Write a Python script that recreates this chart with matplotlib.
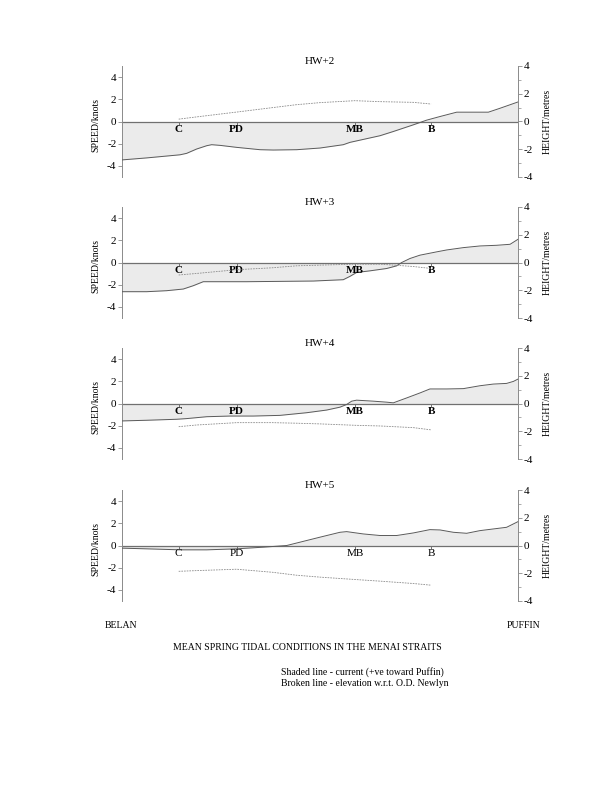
import matplotlib
matplotlib.use("Agg")
import matplotlib.pyplot as plt
from matplotlib.ticker import MultipleLocator, FixedLocator

plt.rcParams['font.family'] = ['Liberation Serif', 'DejaVu Serif']
plt.rcParams['axes.unicode_minus'] = False

# ---------------- data ----------------
panel_titles = ["HW+2", "HW+3", "HW+4", "HW+5"]

loc_names = ["C", "PD", "MB", "B"]
loc_km = [3.58, 7.24, 14.71, 19.51]

# current speed (knots), +ve toward Puffin
cur_km_1 = [0, 1.56, 3.66, 4.08, 4.71, 5.35, 5.66, 6.19, 7.24, 8.71, 9.55, 11.03, 12.5,
            13.97, 14.39, 16.29, 17.13, 18.39, 19.23, 20.08, 21.13, 23.13, 23.86, 25.0]
cur_kn_1 = [-3.46, -3.28, -3.0, -2.87, -2.48, -2.18, -2.09, -2.15, -2.33, -2.54, -2.57, -2.54,
            -2.39, -2.09, -1.88, -1.28, -0.9, -0.3, 0.12, 0.45, 0.84, 0.84, 1.19, 1.76]

cur_km_2 = [0, 1.56, 2.82, 3.87, 4.5, 5.13, 7.87, 12.08, 13.97, 14.39, 14.81, 15.66, 16.71,
            17.34, 17.66, 18.18, 18.81, 19.87, 20.5, 21.55, 22.6, 23.65, 24.5, 25.0]
cur_kn_2 = [-2.63, -2.63, -2.54, -2.39, -2.09, -1.73, -1.73, -1.67, -1.55, -1.25, -0.9, -0.75,
            -0.54, -0.3, 0.0, 0.36, 0.66, 0.96, 1.13, 1.34, 1.49, 1.55, 1.64, 2.09]

cur_km_3 = [0, 1.56, 3.45, 4.08, 5.35, 6.82, 8.29, 9.97, 11.66, 12.92, 13.76, 14.18, 14.5,
            14.81, 15.87, 16.71, 17.13, 17.97, 18.81, 19.44, 20.5, 21.55, 22.6, 23.44, 24.28,
            24.71, 25.0]
cur_kn_3 = [-1.57, -1.51, -1.42, -1.36, -1.19, -1.13, -1.13, -1.07, -0.83, -0.59, -0.33, -0.09,
            0.21, 0.3, 0.21, 0.12, 0.06, 0.5, 0.95, 1.31, 1.31, 1.34, 1.6, 1.75, 1.81, 1.99, 2.2]

cur_km_4 = [0, 1.56, 3.66, 5.35, 7.24, 8.92, 10.4, 11.24, 12.5, 13.76, 14.18, 15.24, 16.29,
            17.34, 18.39, 19.44, 20.08, 20.92, 21.76, 22.6, 23.44, 24.28, 25.0]
cur_kn_4 = [-0.24, -0.3, -0.39, -0.39, -0.3, -0.15, 0.0, 0.3, 0.75, 1.19, 1.25, 1.04, 0.9,
            0.9, 1.13, 1.43, 1.4, 1.19, 1.1, 1.34, 1.49, 1.64, 2.15]

# elevation (metres) w.r.t. O.D. Newlyn
elev_km = [3.58, 4.7, 7.24, 9.5, 11.0, 12.5, 14.7, 16.3, 18.4, 19.51]
elev_m_1 = [0.17, 0.33, 0.68, 1.0, 1.21, 1.36, 1.5, 1.43, 1.38, 1.26]
elev_m_2 = [-0.9, -0.79, -0.52, -0.38, -0.24, -0.19, -0.12, -0.12, -0.29, -0.43]
elev_m_3 = [-1.67, -1.55, -1.38, -1.38, -1.42, -1.47, -1.57, -1.62, -1.74, -1.9]
elev_m_4 = [-1.86, -1.81, -1.71, -1.93, -2.14, -2.28, -2.45, -2.57, -2.74, -2.86]

cur_km = [cur_km_1, cur_km_2, cur_km_3, cur_km_4]
cur_kn = [cur_kn_1, cur_kn_2, cur_kn_3, cur_kn_4]
elev_m = [elev_m_1, elev_m_2, elev_m_3, elev_m_4]

speed_ticks = [-4, -2, 0, 2, 4]
height_ticks = [-4, -2, 0, 2, 4]

# ---------------- figure ----------------
W, H = 612, 792
fig = plt.figure(figsize=(W / 100, H / 100), dpi=100)
fig.patch.set_facecolor("white")

left_px, right_px = 122, 518
tops_px = [66, 207, 348, 490]
height_px = 111

spine_col = "#8a8a8a"
fs = 8
fs_small = 7

for i in range(4):
    top = tops_px[i]
    ax = fig.add_axes([left_px / W, 1 - (top + height_px) / H,
                       (right_px - left_px) / W, height_px / H])
    ax.set_xlim(0, 25)
    ax.set_ylim(-5, 5)
    for s in ["top", "bottom", "right"]:
        ax.spines[s].set_visible(False)
    ax.spines["left"].set_color(spine_col)
    ax.spines["left"].set_linewidth(0.7)
    ax.set_xticks([])
    ax.yaxis.set_major_locator(FixedLocator(speed_ticks))
    ax.set_yticklabels([str(t) for t in speed_ticks])
    ax.tick_params(axis="y", length=3, width=0.6, color=spine_col, labelsize=fs, pad=1)

    ax.fill_between(cur_km[i], 0, cur_kn[i], color="#ebebeb", linewidth=0, zorder=1)
    ax.plot(cur_km[i], cur_kn[i], color="#5a5a5a", lw=0.7, zorder=3)
    ax.axhline(0, color="#707070", lw=0.9, zorder=2)

    ax.vlines(loc_km, -0.3, 0, color="#707070", lw=0.7, zorder=2)
    for nm, xk in zip(loc_names, loc_km):
        ax.text(xk, -0.72, nm, ha="center", va="center", fontsize=fs,
                fontweight="bold" if i < 3 else "normal", color="black", zorder=4)

    ax.set_ylabel("SPEED/knots", fontsize=fs_small)
    ax.yaxis.set_label_coords(-0.055, 0.47)

    ax.text(0.5, 1.045, panel_titles[i], transform=ax.transAxes, ha="center",
            va="center", fontsize=fs)

    tw = ax.twinx()
    tw.set_ylim(-4, 4)
    for s in ["top", "bottom", "left"]:
        tw.spines[s].set_visible(False)
    tw.spines["right"].set_color(spine_col)
    tw.spines["right"].set_linewidth(0.7)
    tw.yaxis.set_major_locator(FixedLocator(height_ticks))
    tw.set_yticklabels([str(t) for t in height_ticks])
    tw.yaxis.set_minor_locator(MultipleLocator(1))
    tw.tick_params(axis="y", which="major", length=3, width=0.6, color=spine_col,
                   labelsize=fs, pad=1)
    tw.tick_params(axis="y", which="minor", length=2.5, width=0.5, color=spine_col)
    tw.plot(elev_km, elev_m[i], color="#8c8c8c", lw=0.6, dashes=(2.0, 1.2), zorder=3)
    tw.set_ylabel("HEIGHT/metres", fontsize=fs_small, rotation=90)
    tw.yaxis.set_label_coords(1.063, 0.5)

# ---------------- bottom texts ----------------
def fx(x):
    return x / W

def fy(y):
    return 1 - y / H

fig.text(fx(105), fy(625), "BELAN", ha="left", va="center", fontsize=fs_small)
fig.text(fx(540), fy(625), "PUFFIN", ha="right", va="center", fontsize=fs_small)
fig.text(fx(307), fy(648), "MEAN SPRING TIDAL CONDITIONS IN THE MENAI STRAITS",
         ha="center", va="center", fontsize=fs_small)
fig.text(fx(444), fy(672), "Shaded line - current (+ve toward Puffin)",
         ha="right", va="center", fontsize=fs_small)
fig.text(fx(449), fy(684), "Broken line - elevation w.r.t. O.D. Newlyn",
         ha="right", va="center", fontsize=fs_small)

fig.savefig("out.png", dpi=100, facecolor="white")
